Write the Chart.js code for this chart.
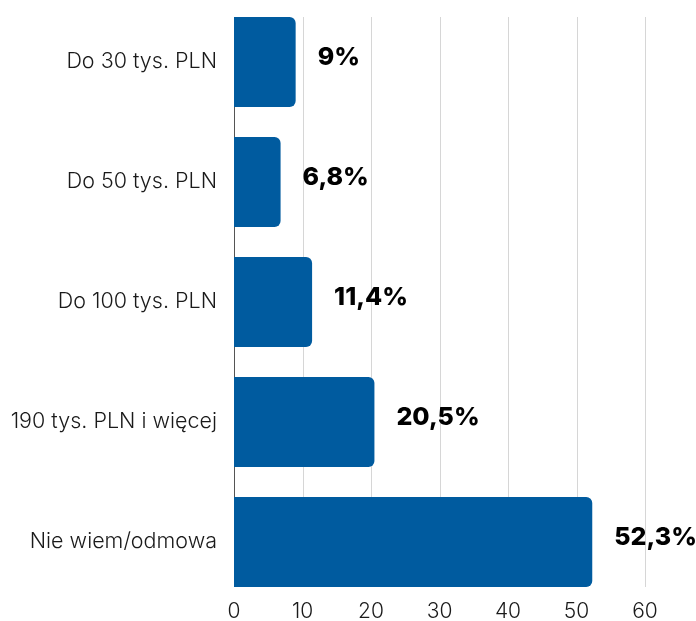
<!DOCTYPE html>
<html lang="pl">
<head>
  <meta charset="UTF-8">
  <title>Dochody</title>
  <script src="https://cdn.jsdelivr.net/npm/chart.js"></script>
  <style>
    * { box-sizing: border-box; margin: 0; padding: 0; }
    body { background: #FFFFFF; width: 696px; height: 621px; overflow: hidden; }
    canvas { display: block; }
  </style>
</head>
<body>
  <canvas id="chart" width="696" height="621"></canvas>

  <script>
    // categories, top to bottom
    const categories = ['Do 30 tys. PLN', 'Do 50 tys. PLN', 'Do 100 tys. PLN', '190 tys. PLN i więcej', 'Nie wiem/odmowa'];
    const shares = [9, 6.8, 11.4, 20.5, 52.3];
    const shareLabels = ['9%', '6,8%', '11,4%', '20,5%', '52,3%'];
    const xTicks = [0, 10, 20, 30, 40, 50, 60];

    const barColor = '#005B9F';
    const textColor = '#1A1A1A';
    const fontFamily = 'Inter, "Noto Sans", sans-serif';

    // vertical grid + y axis line, only as tall as the bars
    const gridPlugin = {
      id: 'gridLines',
      beforeDatasetsDraw(chart) {
        const bars = chart.getDatasetMeta(0).data;
        const top = bars[0].y - bars[0].height / 2;
        const last = bars[bars.length - 1];
        const bottom = last.y + last.height / 2;
        const x = chart.scales.x;
        const ctx = chart.ctx;
        ctx.save();
        ctx.lineWidth = 1;
        xTicks.forEach(v => {
          const px = Math.round(x.getPixelForValue(v)) + 0.5;
          ctx.strokeStyle = v === 0 ? '#555555' : '#D6D6D6';
          ctx.beginPath();
          ctx.moveTo(px, top);
          ctx.lineTo(px, bottom);
          ctx.stroke();
        });
        ctx.restore();
      }
    };

    const valueLabels = {
      id: 'valueLabels',
      afterDatasetsDraw(chart) {
        const ctx = chart.ctx;
        ctx.save();
        ctx.font = '800 25px ' + fontFamily;
        ctx.fillStyle = '#000000';
        ctx.textAlign = 'left';
        ctx.textBaseline = 'middle';
        chart.getDatasetMeta(0).data.forEach((bar, i) => {
          ctx.fillText(shareLabels[i], bar.x + 22, bar.y - 5);
        });
        ctx.restore();
      }
    };

    new Chart(document.getElementById('chart'), {
      type: 'bar',
      data: {
        labels: categories,
        datasets: [{
          data: shares,
          backgroundColor: barColor,
          borderRadius: 6,
          barPercentage: 0.75,
          categoryPercentage: 1
        }]
      },
      plugins: [gridPlugin, valueLabels],
      options: {
        indexAxis: 'y',
        responsive: false,
        animation: false,
        devicePixelRatio: 1,
        layout: { padding: { top: 2, right: 51, left: 0, bottom: 0 } },
        plugins: { legend: { display: false }, tooltip: { enabled: false } },
        scales: {
          x: {
            min: 0,
            max: 60,
            afterBuildTicks(scale) { scale.ticks = xTicks.map(v => ({ value: v })); },
            afterFit(scale) {
              scale.height = 19;
              scale.paddingLeft = 0;
              scale.paddingRight = 0;
            },
            grid: { display: false, drawTicks: false },
            border: { display: false },
            ticks: {
              padding: -3,
              maxRotation: 0,
              color: textColor,
              font: { family: fontFamily, size: 21, weight: 300 }
            }
          },
          y: {
            afterFit(scale) {
              scale.width = 234;
              scale.paddingTop = 0;
              scale.paddingBottom = 0;
            },
            grid: { display: false, drawTicks: false },
            border: { display: false },
            ticks: {
              padding: 17,
              color: textColor,
              font: { family: fontFamily, size: 21.5, weight: 300 }
            }
          }
        }
      }
    });
  </script>
</body>
</html>
